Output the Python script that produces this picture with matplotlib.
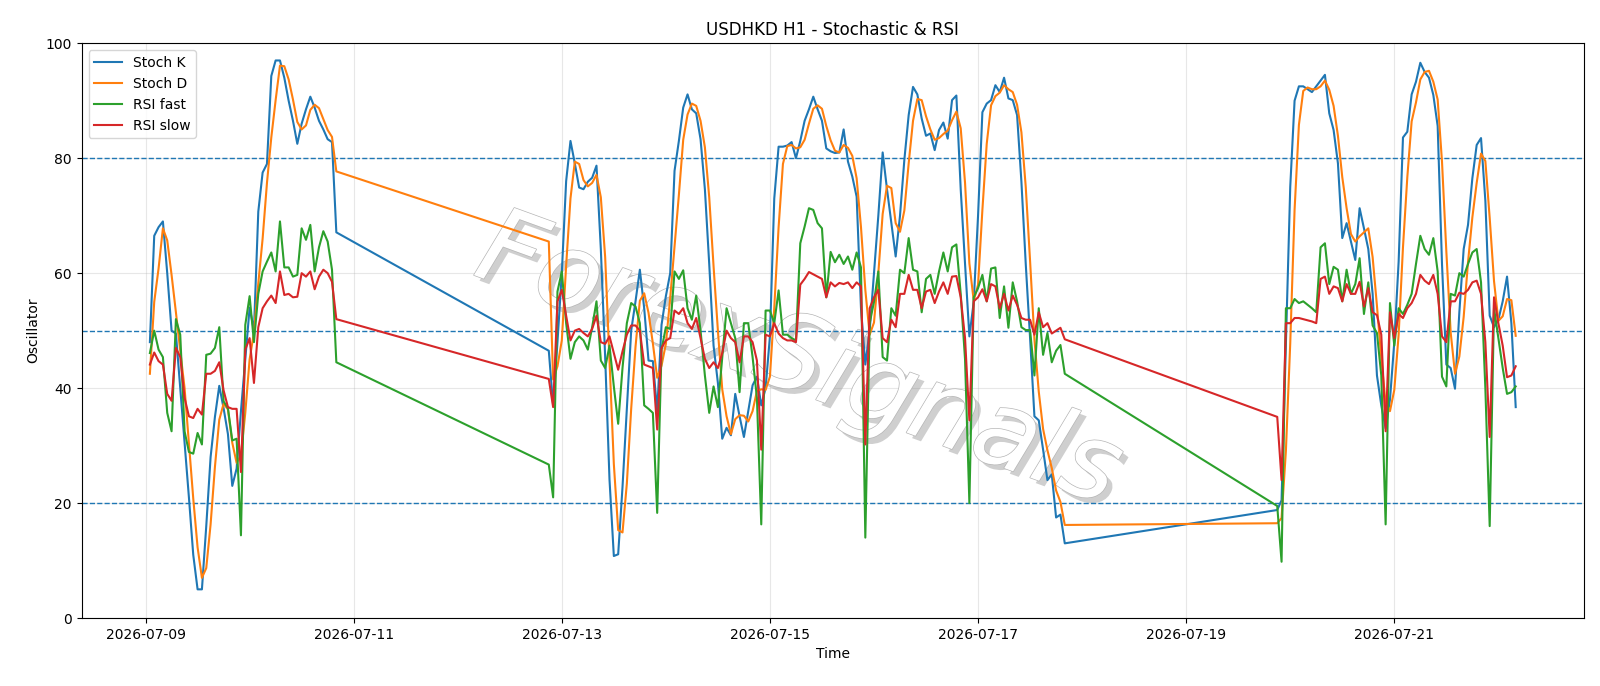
import matplotlib
matplotlib.use("Agg")
import matplotlib.pyplot as plt
import matplotlib.dates as mdates
import matplotlib.patheffects as pe
import numpy as np
import pandas as pd

# --- data -----------------------------------------------------------------
seg_starts = ["2026-07-09 01:00", "2026-07-12 21:00", "2026-07-19 21:00"]
seg_lengths = [44, 120, 56]

stoch_k = [
    # 07-09 01:00 .. 07-10 20:00
    48, 66.5, 68, 69, 60, 50, 49.5, 40, 30.5, 21,
    11, 5, 5, 16, 28, 35, 40.4, 36.5, 32, 23,
    26, 36, 45, 54, 50, 70.7, 77.5, 79, 94.3, 97,
    97, 94, 90, 86.5, 82.5, 86, 88.5, 90.7, 88.8, 86.5,
    85, 83.3, 82.8, 67.1,
    # 07-12 21:00 .. 07-17 20:00
    46.5, 37, 48, 60, 76, 83, 79.1, 74.9, 74.6, 75.9,
    76.6, 78.7, 64.2, 45.4, 24.1, 10.8, 11.1, 22.8, 36.4, 50,
    55.1, 60.6, 53.9, 44.8, 44.7, 36, 51, 56, 60, 77.8,
    83, 88.8, 91.1, 88.5, 87.8, 83.3, 74.6, 61.6, 47.4, 40.9,
    31.2, 33.1, 31.8, 39, 35.1, 31.5, 36, 40.5, 42, 37,
    40, 49, 73, 82, 82, 82.2, 82.8, 80, 83, 86.5,
    88.5, 90.7, 88.5, 86.5, 81.7, 81.2, 80.9, 81, 85, 79.4,
    76.8, 73.3, 53.9, 44.1, 50, 60, 70, 81, 74.6, 68.7,
    62.9, 70, 79.7, 87.5, 92.4, 91.1, 86.9, 83.9, 84.3, 81.4,
    84.9, 86.2, 83.4, 90.1, 90.9, 74.6, 61.6, 49, 55, 70,
    88, 89.5, 90.1, 92.7, 91.5, 94, 90.4, 90.1, 87.5, 75.9,
    61.6, 48.7, 35.1, 34.4, 29.3, 24, 25, 17.5, 18, 13,
    # 07-19 21:00 .. 07-22 04:00
    18.8, 20.5, 48, 75, 90, 92.5, 92.5, 92, 91.5, 92.5,
    93.5, 94.5, 87.8, 84.9, 79.1, 66.1, 68.7, 65.5, 62.3, 71.3,
    67.8, 64.2, 56.4, 42.2, 37, 33, 38, 48, 62, 83.6,
    84.6, 91.1, 93.3, 96.6, 95, 94, 91, 85.6, 61.6, 44.1,
    43.5, 39.9, 53.2, 64.2, 68.4, 76.5, 82.3, 83.5, 72.6, 52.6,
    50.6, 51.9, 55.1, 59.4, 51.3, 36.7,
]

stoch_d = [
    42.5, 55, 60.8, 67.8, 65.7, 59.7, 53.2, 46.5, 40, 30.5,
    20.8, 12.3, 7, 8.7, 16.3, 26.3, 34.5, 37.3, 36.3, 30.5,
    27, 28.3, 35.7, 45, 49.7, 58.2, 66, 75.7, 83.6, 90.1,
    96.1, 96, 93.7, 90.2, 86.3, 85, 85.7, 88.4, 89.3, 88.7,
    86.8, 84.9, 83.7, 77.7,
    65.5, 41.5, 43.8, 48.3, 61.3, 73, 79.4, 79, 76.2, 75.1,
    75.7, 77.1, 73.2, 62.8, 44.6, 26.8, 15.3, 14.9, 23.4, 36.4,
    47.2, 55.2, 56.5, 53.1, 47.8, 41.8, 43.9, 47.7, 55.7, 64.6,
    73.6, 83.2, 87.6, 89.5, 89.1, 86.5, 81.9, 73.2, 61.2, 50,
    39.8, 35.1, 32, 34.6, 35.3, 35.2, 34.2, 36, 39.5, 39.8,
    39.7, 42, 54, 68, 79, 82.1, 82.3, 81.7, 81.9, 83.2,
    86, 88.6, 89.2, 88.6, 85.6, 83.1, 81.3, 81, 82.3, 81.8,
    80.4, 76.5, 68, 57.1, 49.3, 51.4, 60, 70.3, 75.2, 74.8,
    68.7, 67.2, 70.9, 79.1, 86.5, 90.3, 90.1, 87.3, 85, 83.2,
    83.5, 84.2, 84.8, 86.6, 88.1, 85.2, 75.7, 61.7, 55.2, 58,
    71, 82.5, 89.2, 90.8, 91.4, 92.7, 92, 91.5, 89.3, 84.5,
    75, 62.1, 48.5, 39.4, 32.9, 29.2, 26.1, 22.2, 20.2, 16.2,
    16.5, 17.4, 29.1, 47.8, 71, 85.8, 91.7, 92.3, 92, 92,
    92.5, 93.5, 91.9, 89.1, 83.9, 76.7, 71.3, 66.8, 65.5, 66.4,
    67.1, 67.8, 62.8, 54.3, 45.2, 37.4, 36, 39.7, 49.3, 64.5,
    76.7, 86.4, 89.7, 93.7, 95, 95.2, 93.3, 90.2, 79.4, 63.8,
    49.7, 42.5, 45.5, 52.4, 61.9, 69.7, 75.7, 80.8, 79.5, 69.6,
    58.6, 51.7, 52.5, 55.5, 55.3, 49.1,
]

rsi_fast = [
    46.1, 50, 46.7, 45.4, 35.7, 32.5, 52, 49.3, 32.5, 28.9,
    28.6, 32.2, 30.2, 45.8, 46, 47, 50.6, 37.7, 36.5, 30.9,
    31.2, 14.4, 51, 56, 48, 56.4, 60.3, 62, 63.6, 60.3,
    69, 61, 61, 59.4, 59.7, 67.8, 65.8, 68.4, 60.3, 64.5,
    67.3, 65.5, 60.6, 44.5,
    26.7, 21, 56.8, 60.3, 51.3, 45.1, 48, 49, 48.3, 46.7,
    50.6, 55.1, 44.8, 43.5, 47.4, 40.3, 33.8, 43.5, 51.3, 54.8,
    54.2, 51.3, 37, 36.4, 35.7, 18.3, 46.7, 50.6, 50.3, 60.3,
    59, 60.5, 53.9, 51.9, 56.1, 50, 42.2, 35.7, 40.3, 36.7,
    45.4, 53.9, 51.3, 48.7, 39.3, 51.3, 51.3, 45.4, 38.3, 16.3,
    53.5, 53.5, 51.3, 57, 49.3, 49.3, 48.7, 48.3, 65.2, 68.1,
    71.3, 71, 68.7, 67.8, 55.8, 63.7, 61.9, 63.2, 61.6, 62.9,
    60.6, 63.6, 61, 14, 51.3, 55, 60.3, 45.4, 44.8, 53.9,
    52.6, 60.6, 60, 66.1, 60.6, 60.3, 53.2, 59, 59.7, 56.4,
    60.3, 63.6, 60.3, 64.5, 65, 56.4, 45, 20, 55.8, 57.4,
    59.7, 55.1, 60.8, 61, 52.2, 57.7, 50.5, 58.4, 55.1, 50.6,
    50.1, 50.1, 42.2, 53.9, 45.8, 49.6, 44.5, 46.5, 47.5, 42.5,
    19.5, 9.8, 53.9, 53.9, 55.5, 54.8, 55.1, 54.5, 53.9, 53.2,
    64.5, 65.2, 58.1, 61.1, 60.6, 55.1, 60.6, 56.4, 58.1, 62.6,
    52.9, 58.4, 50.9, 49.6, 42.2, 16.3, 54.8, 47.4, 53.9, 52.9,
    54.5, 56.4, 61.6, 66.5, 64.2, 63.2, 66.1, 60.3, 42, 40.3,
    56.4, 56.1, 60, 59.4, 61.6, 63.6, 64.2, 58.4, 40, 16,
    53.9, 48.7, 43.5, 39, 39.3, 40.3,
]

rsi_slow = [
    44.1, 46.2, 44.7, 44.1, 39, 37.8, 47, 45.4, 38.3, 35.1,
    34.8, 36.4, 35.4, 42.5, 42.5, 43, 44.5, 39.6, 36.7, 36.4,
    36.4, 25.4, 46.7, 48.7, 40.9, 50.6, 53.9, 55.1, 56.1, 54.8,
    60.3, 56.2, 56.4, 55.8, 55.9, 60, 59.4, 60.3, 57.2, 59.4,
    60.6, 60, 58.5, 52,
    41.6, 36.7, 55.1, 57.1, 52.6, 48.3, 50, 50.3, 49.6, 49,
    50.3, 52.6, 48, 47.7, 49, 46.1, 43.2, 46.4, 49.3, 50.9,
    50.9, 50, 44.1, 43.8, 43.5, 32.8, 47, 48.3, 48.7, 53.5,
    52.9, 53.9, 51.3, 50.3, 52.2, 48.7, 45.1, 43.5, 44.5, 43.5,
    46.1, 50, 48.7, 48, 44.5, 49, 49, 48, 44.8, 29.3,
    49.3, 49, 51.3, 49.5, 48.7, 48.3, 48.3, 48, 58, 59,
    60.2, 59.8, 59.4, 59, 55.8, 58.4, 57.7, 58.3, 58.1, 58.4,
    57.4, 58.4, 57.7, 30.2, 53.9, 55.8, 57.1, 48.7, 48, 51.9,
    50.6, 56.4, 56.4, 59.7, 57.1, 57.1, 53.9, 56.8, 57.1, 54.8,
    56.8, 58.4, 56.4, 59.4, 59.5, 55.8, 48.7, 34.4, 55.1, 55.8,
    57.2, 55.1, 58.1, 57.7, 53.9, 56.4, 53.5, 56.1, 54.5, 52.2,
    51.9, 51.9, 49.3, 53.2, 50.6, 51.3, 49.5, 50, 50.5, 48.5,
    35, 24, 51.3, 51.3, 52.2, 52.2, 52, 51.8, 51.6, 51.3,
    59, 59.4, 56.4, 57.7, 57.4, 55.1, 58.1, 56.4, 56.4, 58.5,
    54.2, 57.4, 53.2, 52.7, 49.3, 32.5, 53.2, 48.7, 52.9, 52.2,
    53.9, 54.8, 56.4, 59.7, 58.7, 58.1, 59.7, 56.4, 49, 48,
    55.1, 55.1, 56.6, 56.4, 57.1, 58.4, 58.7, 56.4, 48, 31.5,
    55.8, 51.3, 47.4, 41.9, 42.2, 43.8,
]

levels = [80, 50, 20]
series_labels = ["Stoch K", "Stoch D", "RSI fast", "RSI slow"]

# --- figure ---------------------------------------------------------------
times = pd.DatetimeIndex(np.concatenate([
    pd.date_range(s, periods=n, freq="h").values
    for s, n in zip(seg_starts, seg_lengths)
]))

fig, ax = plt.subplots(figsize=(16, 6.86), dpi=100)
fig.subplots_adjust(left=0.051, right=0.99, top=0.937, bottom=0.099)

for vals, lab in zip([stoch_k, stoch_d, rsi_fast, rsi_slow], series_labels):
    ax.plot(times, vals, label=lab, linewidth=1.5, zorder=3)

for lvl in levels:
    ax.axhline(lvl, linestyle="--", linewidth=1, color="C0", zorder=2.5)

ax.set_ylim(0, 100)
ax.grid(True, alpha=0.3)
ax.xaxis.set_major_locator(mdates.DayLocator(bymonthday=range(1, 32, 2)))
ax.xaxis.set_major_formatter(mdates.DateFormatter("%Y-%m-%d"))
ax.set_title("USDHKD H1 - Stochastic & RSI")
ax.set_xlabel("Time")
ax.set_ylabel("Oscillator")
ax.legend(loc="upper left")

ax.text(0.477, 0.445, "ForexSignals", transform=ax.transAxes, fontsize=76,
        style="italic", rotation=-20, ha="center", va="center",
        color="white", zorder=2,
        path_effects=[pe.withSimplePatchShadow(offset=(4, -4), shadow_rgbFace="#888888", alpha=0.4),
                      pe.Stroke(linewidth=1.0, foreground="#b5b5b5"), pe.Normal()])

fig.savefig("out.png", dpi=100)
